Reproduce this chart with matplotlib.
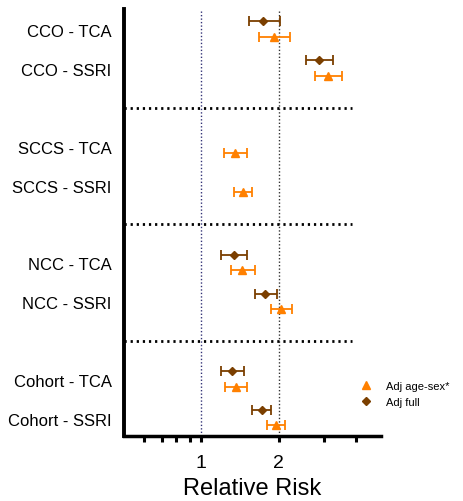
import numpy as np
import matplotlib
matplotlib.use("Agg")
import matplotlib.pyplot as plt
from matplotlib.lines import Line2D
from matplotlib.ticker import FixedLocator, NullFormatter

plt.rcParams['font.family'] = ['Liberation Sans', 'DejaVu Sans']

labels = ['CCO - TCA', 'CCO - SSRI', 'SCCS - TCA', 'SCCS - SSRI',
          'NCC - TCA', 'NCC - SSRI', 'Cohort - TCA', 'Cohort - SSRI']
rows = [0, 1, 3, 4, 6, 7, 9, 10]
separators = [2, 5, 8]

# Adj age-sex* (orange triangles)
agesex_est = [1.92, 3.12, 1.35, 1.45, 1.44, 2.05, 1.36, 1.95]
agesex_lo = [1.67, 2.77, 1.23, 1.34, 1.30, 1.87, 1.24, 1.80]
agesex_hi = [2.21, 3.52, 1.50, 1.57, 1.61, 2.26, 1.51, 2.12]

# Adj full (brown diamonds), no value for SCCS
full_rows = [0, 1, 6, 7, 9, 10]
full_est = [1.74, 2.88, 1.34, 1.77, 1.32, 1.72]
full_lo = [1.53, 2.55, 1.19, 1.61, 1.19, 1.58]
full_hi = [2.02, 3.24, 1.51, 1.97, 1.46, 1.87]

orange = '#ff8000'
brown = '#7b3f00'

fig = plt.figure(figsize=(4.63, 5.02), dpi=100)
ax = fig.add_axes([124/463, 1 - 437/502, (381 - 124)/463, (437 - 10)/502])

y_a = np.array(rows) + 0.17
est = np.array(agesex_est)
ax.errorbar(est, y_a, xerr=[est - np.array(agesex_lo), np.array(agesex_hi) - est],
            fmt='^', color=orange, ms=6, lw=1.3, capsize=3.5, capthick=1.3, zorder=3)

y_f = np.array(full_rows) - 0.22
est = np.array(full_est)
ax.errorbar(est, y_f, xerr=[est - np.array(full_lo), np.array(full_hi) - est],
            fmt='D', color=brown, ms=4.5, lw=1.3, capsize=3.5, capthick=1.3, zorder=3)

ax.axvline(1, color='#333377', lw=1, ls=(0, (1, 1.5)), zorder=1)
ax.axvline(2, color='#333333', lw=1, ls=(0, (1, 1.5)), zorder=1)
for s in separators:
    ax.plot([0.5, 3.85], [s, s], color='black', lw=2, ls=(0, (0.8, 1.4)), zorder=2)

ax.set_xscale('log')
ax.set_xlim(0.5, 5)
ax.set_ylim(10.44, -0.54)
ax.xaxis.set_major_locator(FixedLocator([1, 2, 3, 4]))
ax.xaxis.set_minor_locator(FixedLocator([0.6, 0.7, 0.8, 0.9]))
ax.set_xticklabels(['1', '2', '', ''])
ax.xaxis.set_minor_formatter(NullFormatter())
ax.tick_params(axis='x', which='both', length=4, width=2.2, labelsize=14, pad=9)
ax.set_yticks(rows)
ax.set_yticklabels(labels, fontsize=12)
ax.tick_params(axis='y', length=0, pad=9)
ax.set_xlabel('Relative Risk', fontsize=17, labelpad=4)

for side in ['top', 'right']:
    ax.spines[side].set_visible(False)
ax.spines['left'].set_linewidth(2.8)
ax.spines['bottom'].set_linewidth(2.5)

handles = [Line2D([], [], ls='none', marker='^', color=orange, ms=6),
           Line2D([], [], ls='none', marker='D', color=brown, ms=4.5)]
ax.legend(handles, ['Adj age-sex*', 'Adj full'], loc='center left',
          bbox_to_anchor=(356/463, 1 - 395/502), bbox_transform=fig.transFigure,
          frameon=False, fontsize=8, handletextpad=1.3, borderaxespad=0,
          labelspacing=0.55, handlelength=1.0)

fig.savefig('out.png', dpi=100)
